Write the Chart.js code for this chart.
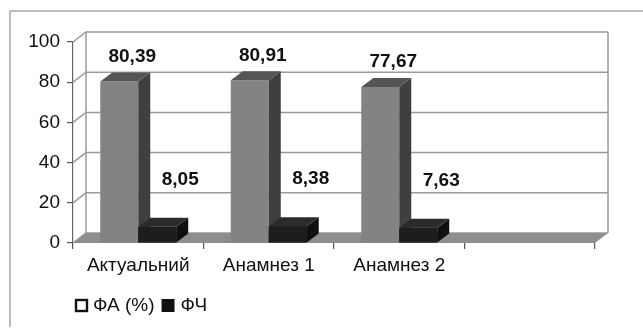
<!DOCTYPE html>
<html>
<head>
<meta charset="UTF-8">
<title>ФА / ФЧ</title>
<script src="https://cdn.jsdelivr.net/npm/chart.js@4/dist/chart.umd.min.js"></script>
<style>
  body { margin: 0; background: #fff; }
  canvas { display: block; }
</style>
</head>
<body>
<canvas id="chart" width="643" height="329"></canvas>
<script>
// categories and series
var categories = ['Актуальний', 'Анамнез 1', 'Анамнез 2', ''];
var faValues = [80.39, 80.91, 77.67, null];
var fchValues = [8.05, 8.38, 7.63, null];
var seriesNames = ['ФА (%)', 'ФЧ'];
var yTicks = [0, 20, 40, 60, 80, 100];

var FONT = '"Liberation Sans", Arial, sans-serif';

// depth of the walls/floor and of the bars
var wallDx = 13, wallDy = -10;
var barDx = 12, barDy = -9;

var faces = [
  { front: '#838383', side: '#3f3f3f', top: '#555555' },
  { front: '#1d1d1d', side: '#101010', top: '#2b2b2b' }
];

function poly(ctx, pts, fill) {
  ctx.beginPath();
  ctx.moveTo(pts[0][0], pts[0][1]);
  for (var i = 1; i < pts.length; i++) ctx.lineTo(pts[i][0], pts[i][1]);
  ctx.closePath();
  ctx.fillStyle = fill;
  ctx.fill();
}

var box3d = {
  id: 'box3d',
  beforeDatasetsDraw: function(chart) {
    var ctx = chart.ctx, a = chart.chartArea, y = chart.scales.y;
    ctx.save();
    // back wall + left wall gridlines
    ctx.strokeStyle = '#9a9a9a';
    ctx.lineWidth = 1.5;
    yTicks.forEach(function(v) {
      var py = y.getPixelForValue(v);
      ctx.beginPath();
      ctx.moveTo(a.left, py);
      ctx.lineTo(a.left + wallDx, py + wallDy);
      ctx.lineTo(a.right + wallDx, py + wallDy);
      ctx.stroke();
    });
    ctx.beginPath();
    ctx.moveTo(a.left + wallDx, a.top + wallDy);
    ctx.lineTo(a.left + wallDx, a.bottom + wallDy);
    ctx.moveTo(a.right + wallDx, a.top + wallDy);
    ctx.lineTo(a.right + wallDx, a.bottom + wallDy);
    ctx.stroke();
    // floor
    poly(ctx, [[a.left, a.bottom], [a.right, a.bottom],
               [a.right + wallDx, a.bottom + wallDy], [a.left + wallDx, a.bottom + wallDy]], '#8e8e8e');
    ctx.restore();
  },
  afterDatasetsDraw: function(chart) {
    var ctx = chart.ctx;
    ctx.save();
    for (var i = 0; i < categories.length; i++) {
      for (var d = 0; d < 2; d++) {
        var meta = chart.getDatasetMeta(d);
        var el = meta.data[i];
        if (chart.data.datasets[d].data[i] == null || !el) continue;
        var l = el.x - el.width / 2, r = el.x + el.width / 2, t = el.y, b = el.base;
        var f = faces[d];
        if (d > 0) { ctx.fillStyle = f.front; ctx.fillRect(l, t, r - l, b - t); }
        poly(ctx, [[r, t], [r + barDx, t + barDy], [r + barDx, b + barDy], [r, b]], f.side);
        poly(ctx, [[l, t], [r, t], [r + barDx, t + barDy], [l + barDx, t + barDy]], f.top);
      }
    }
    // value labels
    ctx.font = 'bold 19px ' + FONT;
    ctx.fillStyle = '#111';
    ctx.textAlign = 'center';
    ctx.textBaseline = 'middle';
    var offs = [[13, 25], [23, 47]];
    for (var d2 = 0; d2 < 2; d2++) {
      var m = chart.getDatasetMeta(d2);
      chart.data.datasets[d2].data.forEach(function(v, j) {
        if (v == null) return;
        var e = m.data[j];
        ctx.fillText(v.toFixed(2).replace('.', ','), e.x + offs[d2][0], e.y - offs[d2][1]);
      });
    }
    ctx.restore();
  },
  afterDraw: function(chart) {
    var ctx = chart.ctx;
    ctx.save();
    // outer frame
    ctx.strokeStyle = '#a8a8a8';
    ctx.lineWidth = 1.5;
    ctx.beginPath();
    ctx.moveTo(10, 327);
    ctx.lineTo(10, 11);
    ctx.lineTo(643, 11);
    ctx.stroke();
    // legend
    ctx.font = '19px ' + FONT;
    ctx.textBaseline = 'middle';
    ctx.fillStyle = '#111';
    var lx = 75, ly = 306;
    ctx.lineWidth = 2.4;
    ctx.strokeStyle = '#111';
    ctx.strokeRect(lx + 1, ly - 6, 11, 11);
    ctx.fillText(seriesNames[0], lx + 18, ly);
    var w = ctx.measureText(seriesNames[0]).width;
    var bx = lx + 18 + w + 7;
    ctx.fillRect(bx, ly - 7, 13, 13);
    ctx.fillText(seriesNames[1], bx + 19, ly);
    ctx.restore();
  }
};

new Chart(document.getElementById('chart'), {
  type: 'bar',
  data: {
    labels: categories,
    datasets: [
      { label: seriesNames[0], data: faValues, backgroundColor: faces[0].front,
        barPercentage: 1, categoryPercentage: 0.582 },
      { label: seriesNames[1], data: fchValues, backgroundColor: faces[1].front,
        barPercentage: 1, categoryPercentage: 0.582 }
    ]
  },
  options: {
    responsive: false,
    animation: false,
    layout: { padding: { top: 42, right: 48, left: 0, bottom: 40 } },
    plugins: { legend: { display: false }, tooltip: { enabled: false } },
    scales: {
      x: {
        afterFit: function(s) { s.height = 46; },
        grid: { offset: true, drawOnChartArea: false, tickLength: 6, color: '#555', lineWidth: 1.2 },
        border: { display: false },
        ticks: { color: '#111', font: { family: FONT, size: 19 }, padding: 5 }
      },
      y: {
        min: 0, max: 100,
        afterFit: function(s) { s.width = 73; },
        afterBuildTicks: function(s) { s.ticks = yTicks.map(function(v) { return { value: v }; }); },
        grid: { drawOnChartArea: false, tickLength: 6, color: '#555', lineWidth: 1.2 },
        border: { display: true, color: '#666', width: 1.2 },
        ticks: { color: '#111', font: { family: FONT, size: 19 }, padding: 7 }
      }
    }
  },
  plugins: [box3d]
});
</script>
</body>
</html>
